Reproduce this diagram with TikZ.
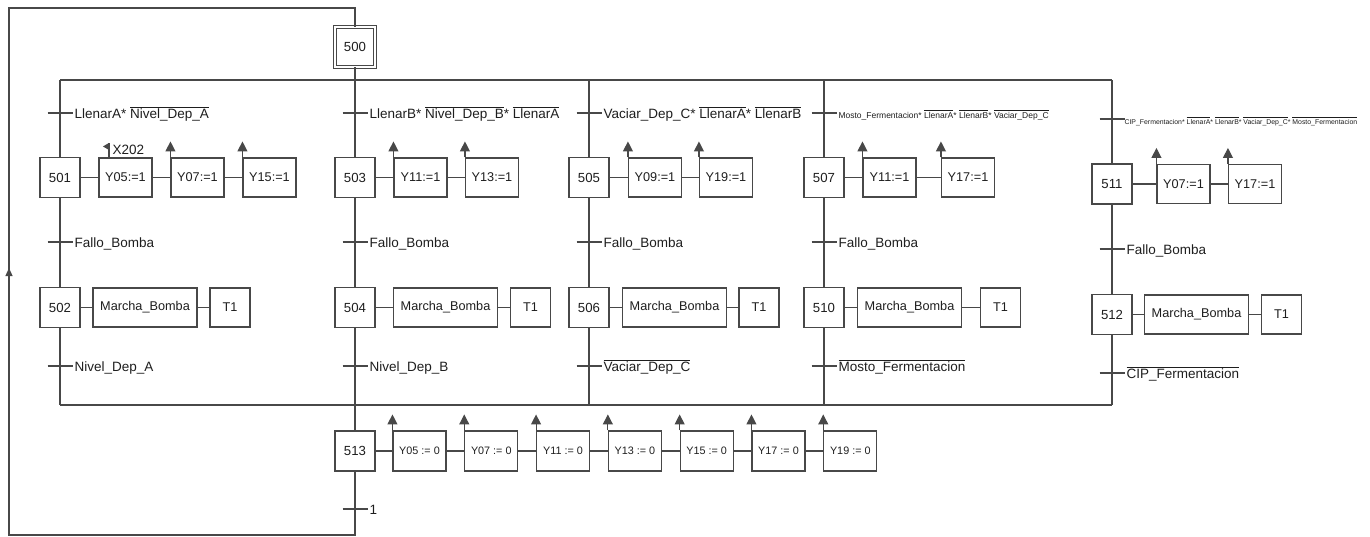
\documentclass[tikz,border=0pt]{standalone}
\usepackage{fontspec}
\setmainfont{Liberation Sans}
\usetikzlibrary{arrows.meta}
\definecolor{grafline}{HTML}{484848}
\definecolor{graftext}{HTML}{1E1E1E}
\newcommand{\ovl}[1]{$\overline{\mbox{#1}}$}

\begin{document}
\begin{tikzpicture}[
    x=1pt, y=-1pt,
    color=grafline, text=graftext, line width=1.1pt,
    stepbox/.style={draw, minimum width=40pt, minimum height=40pt, inner sep=0pt, font=\fontsize{13.2}{15}\selectfont},
    initstep/.style={stepbox, double, double distance=2pt, line width=0.9pt},
    actbox/.style={draw, minimum width=53pt, minimum height=39pt, inner sep=0pt, font=\fontsize{12.7}{15}\selectfont},
    pumpbox/.style={actbox, minimum width=104pt},
    timebox/.style={actbox, minimum width=40pt},
    resetbox/.style={actbox, minimum height=40pt, font=\fontsize{10.8}{12}\selectfont},
    trlabel/.style={anchor=base west, inner sep=2pt, font=\fontsize{13.5}{16}\selectfont},
    smalllabel/.style={trlabel, font=\fontsize{8.5}{10}\selectfont},
    tinylabel/.style={trlabel, font=\fontsize{6.9}{8}\selectfont},
    setarrow/.style={-{Triangle[length=10pt, width=10pt]}},
    looparrow/.style={-{Triangle[length=8pt, width=7pt]}},
]
\useasboundingbox (0,0) rectangle (1370,536);

% Initial step
\node[initstep] (s500) at (355,47) {500};

% Selection lines
\coordinate (seltl) at (60,80);
\coordinate (seltr) at (1112,80);
\coordinate (selbl) at (60,405);
\coordinate (selbr) at (1112,405);
\draw (seltl) -- (seltr);
\draw (selbl) -- (selbr);

% Branch A
\node[stepbox] (s501) at (60,177.5) {501};
\node[actbox] (a501a) at (125.5,177.5) {Y05:=1};
\node[actbox] (a501b) at (197.5,177.5) {Y07:=1};
\node[actbox] (a501c) at (269.5,177.5) {Y15:=1};
\node[stepbox] (s502) at (60,307.5) {502};
\node[pumpbox] (a502a) at (145,307.5) {Marcha\_Bomba};
\node[timebox] (a502b) at (230,307.5) {T1};
\coordinate (tA1) at (60,113);
\coordinate (tA2) at (60,242);
\coordinate (tA3) at (60,366);
\node[trlabel] (lA1) at ([xshift=12pt,yshift=-5pt]tA1) {LlenarA* \ovl{Nivel\_Dep\_A}};
\node[trlabel] (lA2) at ([xshift=12pt,yshift=-5pt]tA2) {Fallo\_Bomba};
\node[trlabel] (lA3) at ([xshift=12pt,yshift=-5pt]tA3) {Nivel\_Dep\_A};
\draw (seltl) -- (s501);
\draw (s501) -- (s502);
\draw (s502) -- (selbl);

% Branch B
\node[stepbox] (s503) at (355,177.5) {503};
\node[actbox] (a503a) at (420.5,177.5) {Y11:=1};
\node[actbox] (a503b) at (492,177.5) {Y13:=1};
\node[stepbox] (s504) at (355,307.5) {504};
\node[pumpbox] (a504a) at (445.5,307.5) {Marcha\_Bomba};
\node[timebox] (a504b) at (530.5,307.5) {T1};
\coordinate (tB1) at (355,113);
\coordinate (tB2) at (355,242);
\coordinate (tB3) at (355,366);
\node[trlabel] (lB1) at ([xshift=12pt,yshift=-5pt]tB1) {LlenarB* \ovl{Nivel\_Dep\_B}* \ovl{LlenarA}};
\node[trlabel] (lB2) at ([xshift=12pt,yshift=-5pt]tB2) {Fallo\_Bomba};
\node[trlabel] (lB3) at ([xshift=12pt,yshift=-5pt]tB3) {Nivel\_Dep\_B};
\draw (s500) -- (s503);
\draw (s503) -- (s504);

% Branch C
\node[stepbox] (s505) at (589,177.5) {505};
\node[actbox] (a505a) at (655,177.5) {Y09:=1};
\node[actbox] (a505b) at (726,177.5) {Y19:=1};
\node[stepbox] (s506) at (589,307.5) {506};
\node[pumpbox] (a506a) at (674.5,307.5) {Marcha\_Bomba};
\node[timebox] (a506b) at (759,307.5) {T1};
\coordinate (tC1) at (589,113);
\coordinate (tC2) at (589,242);
\coordinate (tC3) at (589,366);
\node[trlabel] (lC1) at ([xshift=12pt,yshift=-5pt]tC1) {Vaciar\_Dep\_C* \ovl{LlenarA}* \ovl{LlenarB}};
\node[trlabel] (lC2) at ([xshift=12pt,yshift=-5pt]tC2) {Fallo\_Bomba};
\node[trlabel] (lC3) at ([xshift=12pt,yshift=-5pt]tC3) {\ovl{Vaciar\_Dep\_C}};
\draw (s505 |- seltl) -- (s505);
\draw (s505) -- (s506);
\draw (s506) -- (s506 |- selbl);

% Branch D
\node[stepbox] (s507) at (824,177.5) {507};
\node[actbox] (a507a) at (889.5,177.5) {Y11:=1};
\node[actbox] (a507b) at (968,177.5) {Y17:=1};
\node[stepbox] (s510) at (824,307.5) {510};
\node[pumpbox] (a510a) at (909.5,307.5) {Marcha\_Bomba};
\node[timebox] (a510b) at (1000.5,307.5) {T1};
\coordinate (tD1) at (824,113);
\coordinate (tD2) at (824,242);
\coordinate (tD3) at (824,366);
\node[smalllabel] (lD1) at ([xshift=12pt,yshift=-5pt]tD1) {Mosto\_Fermentacion* \ovl{LlenarA}* \ovl{LlenarB}* \ovl{Vaciar\_Dep\_C}};
\node[trlabel] (lD2) at ([xshift=12pt,yshift=-5pt]tD2) {Fallo\_Bomba};
\node[trlabel] (lD3) at ([xshift=12pt,yshift=-5pt]tD3) {\ovl{Mosto\_Fermentacion}};
\draw (s507 |- seltl) -- (s507);
\draw (s507) -- (s510);
\draw (s510) -- (s510 |- selbl);

% Branch E
\node[stepbox] (s511) at (1112,184) {511};
\node[actbox] (a511a) at (1183.5,184) {Y07:=1};
\node[actbox] (a511b) at (1255,184) {Y17:=1};
\node[stepbox] (s512) at (1112,314.5) {512};
\node[pumpbox] (a512a) at (1196.5,314.5) {Marcha\_Bomba};
\node[timebox] (a512b) at (1281.5,314.5) {T1};
\coordinate (tE1) at (1112,119);
\coordinate (tE2) at (1112,249);
\coordinate (tE3) at (1112,373);
\node[tinylabel] (lE1) at ([xshift=10pt,yshift=-5pt]tE1) {CIP\_Fermentacion* \ovl{LlenarA}* \ovl{LlenarB}* \ovl{Vaciar\_Dep\_C}* \ovl{Mosto\_Fermentacion}};
\node[trlabel] (lE2) at ([xshift=12pt,yshift=-5pt]tE2) {Fallo\_Bomba};
\node[trlabel] (lE3) at ([xshift=12pt,yshift=-5pt]tE3) {\ovl{CIP\_Fermentacion}};
\draw (seltr) -- (s511);
\draw (s511) -- (s512);
\draw (s512) -- (selbr);

% Reset step
\node[stepbox] (s513) at (355,451) {513};
\foreach \v [count=\i from 0] in {05,07,11,13,15,17,19}
    \node[resetbox] (r\v) at (419.5+71.8*\i,451) {Y\v{} := 0};
\coordinate (tR1) at (355,509);
\node[trlabel] (lR1) at ([xshift=12pt,yshift=-5pt]tR1) {1};
\draw (s504) -- (s513);

% Action links
\foreach \a/\b in {s501/a501a, a501a/a501b, a501b/a501c, s502/a502a, a502a/a502b,
                   s503/a503a, a503a/a503b, s504/a504a, a504a/a504b,
                   s505/a505a, a505a/a505b, s506/a506a, a506a/a506b,
                   s507/a507a, a507a/a507b, s510/a510a, a510a/a510b,
                   s511/a511a, a511a/a511b, s512/a512a, a512a/a512b,
                   s513/r05, r05/r07, r07/r11, r11/r13, r13/r15, r15/r17, r17/r19} {
    \draw (\a) -- (\b);
}

% Set / reset arrows
\foreach \a in {a501b, a501c, a503a, a503b, a505a, a505b, a507a, a507b, a511a, a511b,
                r05, r07, r11, r13, r15, r17, r19} {
    \draw[setarrow] (\a.north west) -- ++(0,-16);
}

% Forcing flag X202
\coordinate (flag) at ([xshift=10.5pt]a501a.north west);
\draw (flag) -- ++(0,-14.5);
\fill ([yshift=14.5pt]flag) -- ++(0,7) -- ++(-6,-3.5) -- cycle;
\node[trlabel] (lX202) at ([xshift=1pt,yshift=2.5pt]flag) {X202};

% Transition ticks
\foreach \t in {tA1, tA2, tA3, tB1, tB2, tB3, tC1, tC2, tC3, tD1, tD2, tD3, tE1, tE2, tE3, tR1} {
    \draw (\t) ++(-12.5,0) -- ++(25,0);
}

% Loop back to 500
\coordinate (lpb) at (9,535);
\coordinate (lpm) at (9,268);
\coordinate (lpt) at (9,8);
\draw (s513) |- (lpb) -- (lpt) -| (s500);
\draw[looparrow] (lpb) -- (lpm);

\end{tikzpicture}
\end{document}
